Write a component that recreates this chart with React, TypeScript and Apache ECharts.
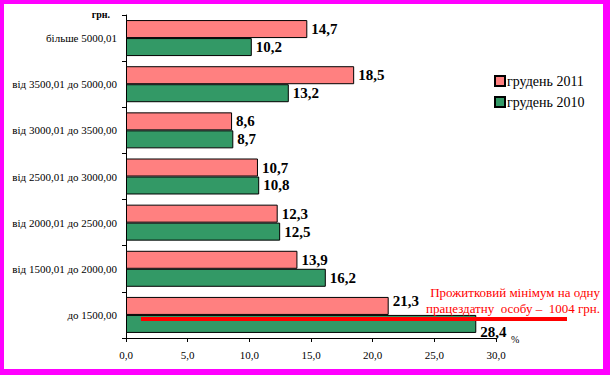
import React, { useEffect, useRef } from "react";
import * as echarts from "echarts";

const categories = [
  "більше 5000,01",
  "від 3500,01 до 5000,00",
  "від 3000,01 до 3500,00",
  "від 2500,01 до 3000,00",
  "від 2000,01 до 2500,00",
  "від 1500,01 до 2000,00",
  "до 1500,00",
];
const dec2011 = [14.7, 18.5, 8.6, 10.7, 12.3, 13.9, 21.3];
const dec2010 = [10.2, 13.2, 8.7, 10.8, 12.5, 16.2, 28.4];
const seriesNames = ["грудень 2011", "грудень 2010"];
const noteLines = ["Прожитковий мінімум на одну", "працездатну  особу –  1004 грн."];

const fmt = (v: number) => v.toFixed(1).replace(".", ",");
const serif = "Liberation Serif";

export default function App() {
  const ref = useRef<HTMLDivElement>(null);
  useEffect(() => {
    const chart = echarts.init(ref.current!, null, { renderer: "svg" });
    const label = {
      show: true,
      position: "right" as const,
      distance: 4,
      formatter: (p: any) => fmt(p.value),
      fontFamily: serif,
      fontWeight: "bold" as const,
      fontSize: 15,
      color: "#000",
    };
    const last = categories.length - 1;
    const data2011 = dec2011.map((v, i) =>
      i === last ? { value: v, label: { offset: [0, -5] } } : v
    );
    const data2010 = dec2010.map((v, i) =>
      i === last ? { value: v, label: { offset: [0, 8] } } : v
    );
    chart.setOption({
      animation: false,
      backgroundColor: "#fff",
      grid: { left: 126, right: 114, top: 15, bottom: 37 },
      legend: {
        orient: "vertical",
        left: 494,
        top: 74,
        padding: 0,
        itemWidth: 10,
        itemHeight: 10,
        itemGap: 7,
        icon: "rect",
        textStyle: { fontFamily: serif, fontSize: 14, color: "#000", padding: [0, 0, 0, -3] },
        data: seriesNames,
      },
      xAxis: {
        type: "value",
        min: 0,
        max: 30,
        interval: 5,
        axisLine: { show: true, lineStyle: { color: "#000", width: 1 } },
        axisTick: { show: true, length: 4, lineStyle: { color: "#000" } },
        splitLine: { show: false },
        axisLabel: {
          formatter: (v: number) => fmt(v),
          fontFamily: serif,
          fontSize: 11,
          color: "#000",
          margin: 11,
        },
      },
      yAxis: {
        type: "category",
        inverse: true,
        data: categories,
        axisLine: { show: true, lineStyle: { color: "#000", width: 1 } },
        axisTick: { show: true, length: 4, lineStyle: { color: "#000" } },
        axisLabel: { fontFamily: serif, fontSize: 11, color: "#000", margin: 9 },
      },
      series: [
        {
          name: seriesNames[0],
          type: "bar",
          data: data2011,
          barGap: "0%",
          barCategoryGap: "22%",
          itemStyle: { color: "#FF8080", borderColor: "#000", borderWidth: 1 },
          label,
        },
        {
          name: seriesNames[1],
          type: "bar",
          data: data2010,
          barGap: "0%",
          barCategoryGap: "22%",
          itemStyle: { color: "#339966", borderColor: "#000", borderWidth: 1 },
          label,
        },
      ],
      graphic: [
        { type: "rect", shape: { x: 0, y: 0, width: 610, height: 4 }, style: { fill: "#FF00FF" }, silent: true },
        { type: "rect", shape: { x: 0, y: 369, width: 610, height: 6 }, style: { fill: "#FF00FF" }, silent: true },
        { type: "rect", shape: { x: 0, y: 0, width: 4, height: 375 }, style: { fill: "#FF00FF" }, silent: true },
        { type: "rect", shape: { x: 603, y: 0, width: 7, height: 375 }, style: { fill: "#FF00FF" }, silent: true },
        {
          type: "text",
          x: 110,
          y: 14,
          style: { text: "грн.", fontFamily: serif, fontWeight: "bold", fontSize: 10, fill: "#000", align: "right", verticalAlign: "middle" },
        },
        {
          type: "text",
          x: 511,
          y: 339,
          style: { text: "%", fontFamily: serif, fontSize: 10, fill: "#000", align: "left", verticalAlign: "middle" },
        },
        {
          type: "line",
          shape: { x1: 141, y1: 319, x2: 567, y2: 319 },
          style: { stroke: "#FF0000", lineWidth: 4 },
          z: 100,
        },
        {
          type: "text",
          x: 600,
          y: 292,
          style: { text: noteLines[0], fontFamily: serif, fontSize: 13, fill: "#FF0000", align: "right", verticalAlign: "middle" },
          z: 100,
        },
        {
          type: "text",
          x: 600,
          y: 308,
          style: { text: noteLines[1], fontFamily: serif, fontSize: 13, fill: "#FF0000", align: "right", verticalAlign: "middle" },
          z: 100,
        },
      ],
    });
    return () => chart.dispose();
  }, []);
  return (
    <div style={{ position: "absolute", left: 0, top: 0, width: 610, height: 375 }}>
      <div ref={ref} style={{ width: 610, height: 375 }} />
    </div>
  );
}
